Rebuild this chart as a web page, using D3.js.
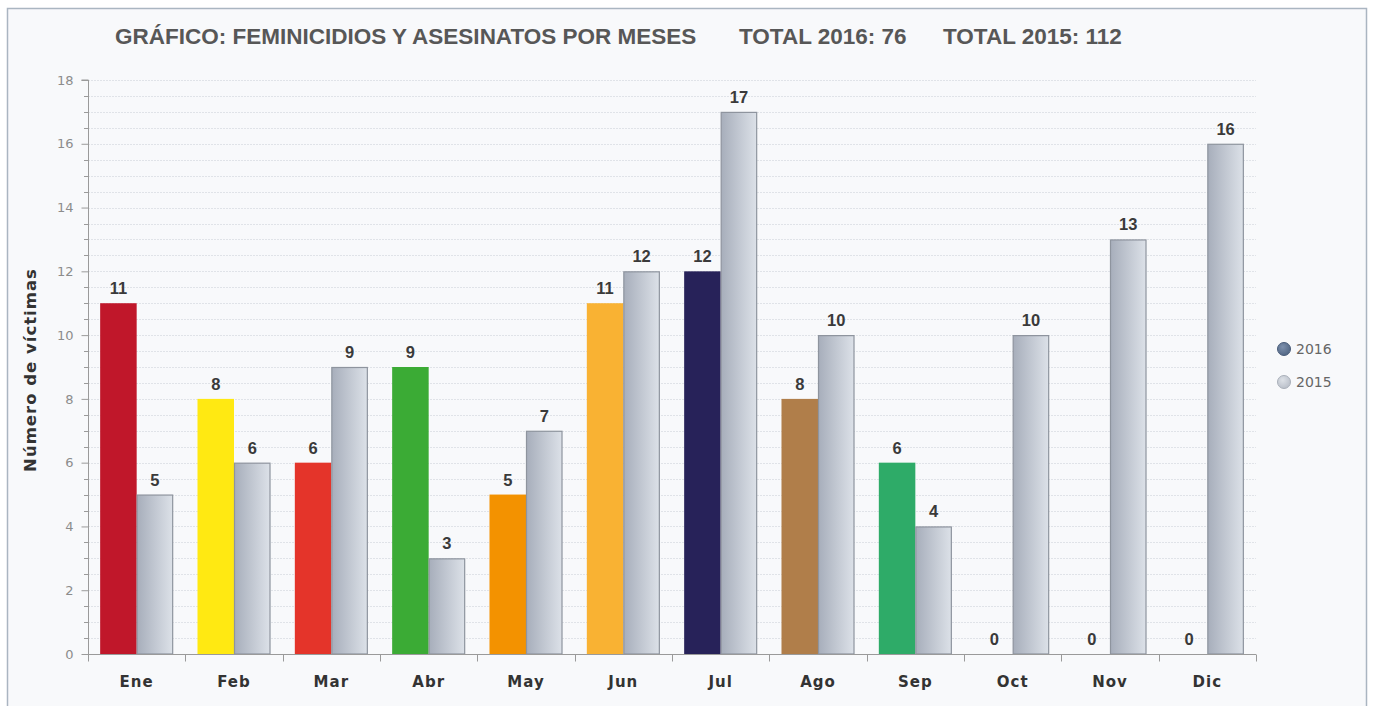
<!DOCTYPE html>
<html>
<head>
<meta charset="utf-8">
<script src="https://cdn.jsdelivr.net/npm/d3@7"></script>
<style>
body{margin:0;background:#fff;}
svg{display:block;}
</style>
</head>
<body>
<svg id="chart" width="1373" height="706"></svg>
<script>
const months = ['Ene','Feb','Mar','Abr','May','Jun','Jul','Ago','Sep','Oct','Nov','Dic'];
const v2016 = [11,8,6,9,5,11,12,8,6,0,0,0];
const v2015 = [5,6,9,3,7,12,17,10,4,10,13,16];
const colors2016 = ['#c0172a','#ffe912','#e4342a','#3bab35','#f39200','#f9b233','#272259','#b07e4a','#2eab68','#999','#999','#999'];
const titleParts = ['GRÁFICO: FEMINICIDIOS Y ASESINATOS POR MESES','TOTAL 2016: 76','TOTAL 2015: 112'];
const seriesNames = ['2016','2015'];

const svg = d3.select('#chart');
const W = 1373, H = 706;
const m = {left:88, right:117, top:80, bottom:52};

// frame
svg.append('rect').attr('x',7.5).attr('y',8.5).attr('width',1359).attr('height',720)
  .attr('fill','#f8f9fb').attr('stroke','#aab5c1').attr('stroke-width',1.5);

const defs = svg.append('defs');
const g15 = defs.append('linearGradient').attr('id','g15').attr('x1','0').attr('x2','1').attr('y1','0').attr('y2','0');
g15.append('stop').attr('offset','0%').attr('stop-color','#a7aebb');
g15.append('stop').attr('offset','100%').attr('stop-color','#dce1e8');
const lg16 = defs.append('radialGradient').attr('id','lg16').attr('cx','0.4').attr('cy','0.35').attr('r','0.7');
lg16.append('stop').attr('offset','0%').attr('stop-color','#7d90ad');
lg16.append('stop').attr('offset','100%').attr('stop-color','#4f6482');
const lg15 = defs.append('radialGradient').attr('id','lg15').attr('cx','0.4').attr('cy','0.35').attr('r','0.7');
lg15.append('stop').attr('offset','0%').attr('stop-color','#dde1e7');
lg15.append('stop').attr('offset','100%').attr('stop-color','#b8bec8');

const x = d3.scaleBand().domain(months).range([m.left, W - m.right]).paddingInner(0).paddingOuter(0);
const xs = d3.scaleBand().domain(seriesNames).range([0, x.bandwidth()]).paddingOuter(0.333).paddingInner(0);
const y = d3.scaleLinear().domain([0,18]).range([H - m.bottom, m.top]);

// title
const titleX = [115, 739, 943];
svg.append('g').selectAll('text').data(titleParts).join('text')
  .attr('x',(d,i)=>titleX[i]).attr('y',44)
  .attr('font-family','Liberation Sans, Arial, sans-serif').attr('font-weight','bold')
  .attr('font-size',22.5).attr('fill','#575757').text(d=>d);

// grid
const minor = d3.range(0.5, 18.01, 0.5);
svg.append('g').selectAll('line').data(minor).join('line')
  .attr('x1',m.left).attr('x2',W - m.right)
  .attr('y1',d=>Math.round(y(d))+0.5).attr('y2',d=>Math.round(y(d))+0.5)
  .attr('stroke','#e0e3e8').attr('stroke-dasharray','2,1');

// minor y ticks
svg.append('g').selectAll('line').data(minor.filter(d=>d%2!==0)).join('line')
  .attr('x1',m.left-4).attr('x2',m.left)
  .attr('y1',d=>Math.round(y(d))+0.5).attr('y2',d=>Math.round(y(d))+0.5)
  .attr('stroke','#9a9a9a');

// y axis
const yAxis = svg.append('g').attr('transform',`translate(${m.left+0.5},0)`)
  .call(d3.axisLeft(y).tickValues(d3.range(0,19,2)).tickSize(7).tickPadding(8));
yAxis.select('.domain').attr('stroke','#9a9a9a').attr('d',`M-7,${y(18)}H0V${y(0)}`);
yAxis.selectAll('.tick line').attr('stroke','#9a9a9a');
yAxis.selectAll('.tick text').attr('fill','#8c8c8c').attr('font-family','DejaVu Sans, Verdana, sans-serif').attr('font-size',13);

// bars
const grp = svg.append('g').selectAll('g').data(months).join('g')
  .attr('transform',d=>`translate(${x(d)},0)`);

grp.append('rect')
  .attr('x',xs('2016')).attr('width',xs.bandwidth())
  .attr('y',(d,i)=>y(v2016[i])).attr('height',(d,i)=>y(0)-y(v2016[i]))
  .attr('fill',(d,i)=>colors2016[i]);

grp.append('rect')
  .attr('x',xs('2015')+0.5).attr('width',xs.bandwidth()-1)
  .attr('y',(d,i)=>y(v2015[i])+0.5).attr('height',(d,i)=>y(0)-y(v2015[i])-0.5)
  .attr('fill','url(#g15)').attr('stroke','#8e949e').attr('stroke-width',1.2);

const labelFont = 'Liberation Sans, Arial, sans-serif';
grp.append('text')
  .attr('x',xs('2016')+xs.bandwidth()/2).attr('y',(d,i)=>y(v2016[i])-9)
  .attr('text-anchor','middle').attr('font-family',labelFont).attr('font-weight','bold')
  .attr('font-size',16.5).attr('fill','#3a3a3a').text((d,i)=>v2016[i]);
grp.append('text')
  .attr('x',xs('2015')+xs.bandwidth()/2).attr('y',(d,i)=>y(v2015[i])-9)
  .attr('text-anchor','middle').attr('font-family',labelFont).attr('font-weight','bold')
  .attr('font-size',16.5).attr('fill','#3a3a3a').text((d,i)=>v2015[i]);

// x axis
const xAxisG = svg.append('g').attr('transform',`translate(0,${y(0)+0.5})`);
xAxisG.append('line').attr('x1',m.left).attr('x2',W-m.right).attr('stroke','#9a9a9a');
const bounds = months.map(d=>x(d)).concat([W - m.right]);
xAxisG.selectAll('.bt').data(bounds).join('line').attr('class','bt')
  .attr('x1',d=>Math.round(d)+0.5).attr('x2',d=>Math.round(d)+0.5).attr('y1',0).attr('y2',7)
  .attr('stroke','#9a9a9a');
xAxisG.selectAll('text').data(months).join('text')
  .attr('x',d=>x(d)+x.bandwidth()/2).attr('y',32)
  .attr('text-anchor','middle').attr('font-family','DejaVu Sans, Verdana, sans-serif')
  .attr('font-weight','bold').attr('font-size',15).attr('letter-spacing',1).attr('fill','#333').text(d=>d);

// y title
svg.append('text').attr('transform',`translate(36,${(y(0)+y(18))/2 + 3}) rotate(-90)`)
  .attr('text-anchor','middle').attr('font-family','DejaVu Sans, Verdana, sans-serif')
  .attr('font-weight','bold').attr('font-size',16.5).attr('letter-spacing',1).attr('fill','#333').text('Número de víctimas');

// legend
const leg = svg.append('g').selectAll('g').data(seriesNames).join('g')
  .attr('transform',(d,i)=>`translate(1284,${349 + i*33})`);
leg.append('circle').attr('r',6.5).attr('fill',(d,i)=>i===0?'url(#lg16)':'url(#lg15)')
  .attr('stroke',(d,i)=>i===0?'#4a5d7a':'#aab0ba').attr('stroke-width',1);
leg.append('text').attr('x',12).attr('y',5).attr('font-family','DejaVu Sans, Verdana, sans-serif')
  .attr('font-size',14).attr('fill','#666').text(d=>d);
</script>
</body>
</html>
